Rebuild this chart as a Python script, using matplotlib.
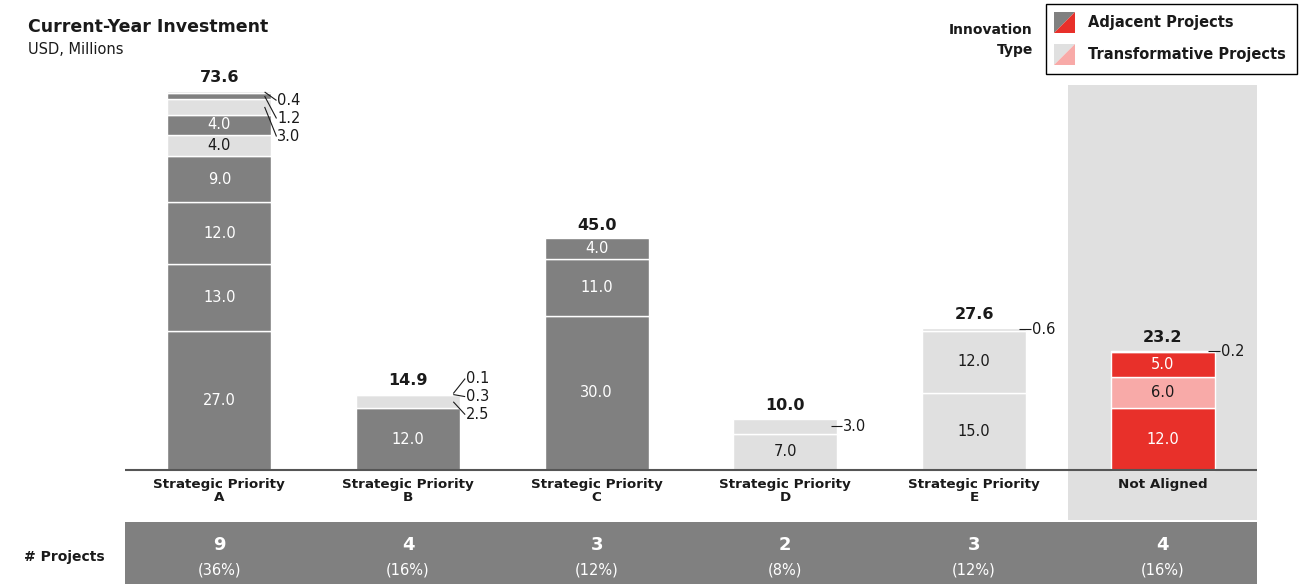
import numpy as np
import matplotlib.pyplot as plt
from matplotlib.patches import Rectangle, Polygon

plt.rcParams['font.family'] = ['DejaVu Sans']

categories = ['Strategic Priority\nA', 'Strategic Priority\nB', 'Strategic Priority\nC',
              'Strategic Priority\nD', 'Strategic Priority\nE', 'Not Aligned']
# stacked segments, bottom to top; 'a' = adjacent, 't' = transformative
seg_a = [27.0, 13.0, 12.0, 9.0, 4.0, 4.0, 3.0, 1.2, 0.4]
kind_a = ['a', 'a', 'a', 'a', 't', 'a', 't', 'a', 't']
seg_b = [12.0, 2.5, 0.3, 0.1]
kind_b = ['a', 't', 't', 't']
seg_c = [30.0, 11.0, 4.0]
kind_c = ['a', 'a', 'a']
seg_d = [7.0, 3.0]
kind_d = ['t', 't']
seg_e = [15.0, 12.0, 0.6]
kind_e = ['t', 't', 't']
seg_na = [12.0, 6.0, 5.0, 0.2]
kind_na = ['a', 't', 'a', 't']
projects = [9, 4, 3, 2, 3, 4]

segments = [seg_a, seg_b, seg_c, seg_d, seg_e, seg_na]
kinds = [kind_a, kind_b, kind_c, kind_d, kind_e, kind_na]

GRAY_DARK = '#808080'
GRAY_LIGHT = '#e0e0e0'
RED = '#e8302a'
PINK = '#f8aaa8'
PANEL = '#e0e0e0'
TXT = '#1a1a1a'

W, H = 1299, 584
fig = plt.figure(figsize=(W / 100, H / 100), dpi=100)

# main axes: pixel geometry of the reference
base_px, top_px = 470, 85
px_per_unit = 5.15
ax = fig.add_axes([125 / W, 0, (1257 - 125) / W, 1 - top_px / H])
ax.set_xlim(-0.5, 5.5)
ymax = (base_px - top_px) / px_per_unit
ymin = (base_px - H) / px_per_unit
ax.set_ylim(ymin, ymax)
ax.axis('off')

def py(p):
    return (base_px - p) / px_per_unit

# Not aligned panel and bottom band
ax.add_patch(Rectangle((4.5, py(520)), 1.0, ymax - py(520), color=PANEL, zorder=0, lw=0))
ax.add_patch(Rectangle((-0.5, ymin), 6.0, py(522) - ymin, color=GRAY_DARK, zorder=0, lw=0))

bw = 0.55
x = np.arange(len(categories))
for i, (vals, ks) in enumerate(zip(segments, kinds)):
    aligned = i < 5
    bottom = 0.0
    outside = []
    for v, k in zip(vals, ks):
        if aligned:
            col = GRAY_DARK if k == 'a' else GRAY_LIGHT
        else:
            col = RED if k == 'a' else PINK
        ax.bar(x[i], v, bw, bottom=bottom, color=col, edgecolor='white', linewidth=1, zorder=2)
        mid = bottom + v / 2
        if v > 3.0:
            tc = 'white' if col in (GRAY_DARK, RED) else TXT
            ax.text(x[i], mid, f'{v:.1f}', ha='center', va='center', color=tc, fontsize=10.5, zorder=3)
        else:
            outside.append((v, mid))
        bottom += v
    total = sum(vals)
    ax.annotate(f'{total:.1f}', (x[i], total), xytext=(0, 4), textcoords='offset points',
                ha='center', va='bottom', fontsize=11.5, fontweight='bold', color=TXT)
    # side labels with leader lines
    if outside:
        outside = outside[::-1]
        n = len(outside)
        gap = 3.5
        center = np.mean([m for _, m in outside])
        ys = [center + gap * (n - 1) / 2 - gap * j for j in range(n)]
        cap = ymax - 3.0
        if ys[0] > cap:
            ys = [y - (ys[0] - cap) for y in ys]
        right = x[i] + bw / 2
        for (v, m), ly in zip(outside, ys):
            ax.plot([right - 0.035, right + 0.028], [m, ly], color=TXT, lw=0.8, zorder=4,
                    solid_capstyle='butt')
            ax.text(right + 0.032, ly, f'{v:.1f}', ha='left', va='center', fontsize=10.5, color=TXT)

ax.plot([-0.5, 5.5], [0, 0], color='#555555', lw=1.5, zorder=3)

for i, c in enumerate(categories):
    ax.text(x[i], py(478), c, ha='center', va='top', fontsize=9.7, fontweight='bold',
            color=TXT, linespacing=1.0)
    ax.text(x[i], py(545), str(projects[i]), ha='center', va='center', fontsize=13,
            fontweight='bold', color='white')
    pct = projects[i] / sum(projects) * 100
    ax.text(x[i], py(570), f'({pct:.0f}%)', ha='center', va='center', fontsize=10.5, color='white')

# overlay in pixel coordinates for titles and legend
ov = fig.add_axes([0, 0, 1, 1], zorder=-1)
ov.set_xlim(0, W)
ov.set_ylim(H, 0)
ov.axis('off')
ov.text(28, 27, 'Current-Year Investment', ha='left', va='center', fontsize=12.5,
        fontweight='bold', color=TXT)
ov.text(28, 50, 'USD, Millions', ha='left', va='center', fontsize=10.5, color=TXT)
ov.text(24, 557, '# Projects', ha='left', va='center', fontsize=10, fontweight='bold', color=TXT)
ov.text(1033, 40, 'Innovation\nType', ha='right', va='center', fontsize=10, fontweight='bold',
        color=TXT, linespacing=1.55)
ov.add_patch(Rectangle((1046, 4), 251, 70, fill=False, edgecolor='black', lw=1))
for (top, c1, c2, lab) in [(12, GRAY_DARK, RED, 'Adjacent Projects'),
                           (44, GRAY_LIGHT, PINK, 'Transformative Projects')]:
    l, r, b = 1054, 1075, top + 21
    ov.add_patch(Polygon([(l, top), (r, top), (l, b)], closed=True, color=c1, lw=0))
    ov.add_patch(Polygon([(r, top), (r, b), (l, b)], closed=True, color=c2, lw=0))
    ov.text(1088, top + 11, lab, ha='left', va='center', fontsize=10.5, fontweight='bold', color=TXT)

fig.savefig('out.png', dpi=100)
